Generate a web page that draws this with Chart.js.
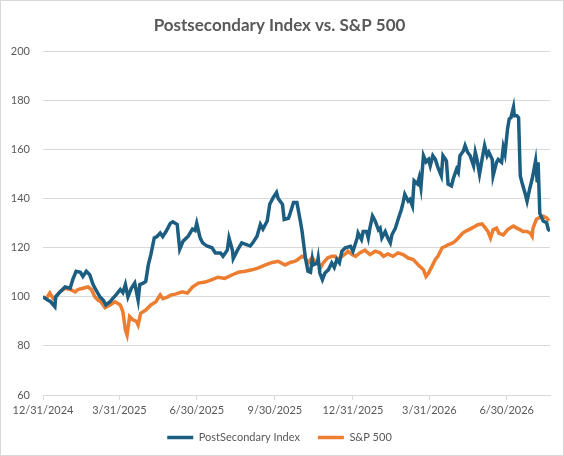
<!DOCTYPE html>
<html>
<head>
<meta charset="utf-8">
<script src="https://cdn.jsdelivr.net/npm/chart.js@4.4.1/dist/chart.umd.min.js"></script>
<style>
  html, body { margin: 0; padding: 0; background: #fff; }
  #wrap { width: 564px; height: 456px; }
</style>
</head>
<body>
<div id="wrap"><canvas id="chart" width="564" height="456"></canvas></div>
<script>
// x values are days after 12/31/2024
const tickDays = [0, 90, 181, 273, 365, 455, 546];
const tickLabels = ["12/31/2024", "3/31/2025", "6/30/2025", "9/30/2025", "12/31/2025", "3/31/2026", "6/30/2026"];

const psDays = [0, 6, 9, 14, 15, 20, 26, 32, 35, 39, 44, 47, 51, 55, 59, 62, 67, 71, 74, 79, 82, 86, 91, 94, 97, 100, 104, 108, 112, 114, 118, 121, 124, 127, 131, 134, 138, 141, 145, 150, 153, 158, 161, 165, 171, 176, 179, 181, 185, 188, 193, 199, 203, 209, 212, 217, 219, 223, 224, 229, 234, 238, 244, 247, 252, 256, 259, 264, 267, 271, 275, 277, 282, 284, 289, 291, 295, 299, 303, 305, 309, 312, 315, 317, 318, 323, 324, 326, 329, 332, 336, 340, 343, 346, 349, 352, 356, 362, 365, 370, 371, 375, 377, 381, 383, 385, 388, 391, 395, 397, 399, 403, 406, 409, 411, 415, 418, 422, 424, 426, 430, 432, 435, 437, 441, 443, 445, 448, 451, 454, 456, 459, 462, 465, 469, 471, 475, 477, 481, 483, 487, 489, 491, 495, 497, 500, 503, 507, 509, 511, 514, 517, 520, 523, 525, 529, 530, 534, 536, 540, 542, 544, 547, 549, 551, 554, 555, 558, 560, 562, 564, 568, 570, 573, 576, 580, 582, 583, 585, 589, 593, 595, 597];
const psValues = [100, 98.6, 98, 96, 100, 102, 104, 103.5, 107, 110.4, 110, 108.3, 110.4, 109, 105, 103, 100, 98.6, 96.7, 98, 99.3, 100.8, 103, 101.7, 105, 100, 103.5, 105.6, 98.6, 105, 105.6, 106.3, 113, 117.2, 124, 124.5, 126, 124.5, 126.7, 130, 130.6, 129.5, 119.4, 122.7, 124.7, 127.6, 127, 130, 124, 122, 120.7, 120, 117.9, 117.9, 116.5, 119, 124, 119, 115.6, 119, 122, 121.5, 120.7, 122, 124.7, 129.5, 127.6, 130.9, 137.7, 140.4, 142.5, 140, 137.7, 131.5, 132, 134, 138.4, 138.4, 130.9, 126.8, 115.8, 110.4, 110, 115.2, 113, 113.8, 115.8, 109.7, 107, 109.7, 111, 113.8, 112, 115.2, 113.8, 118.6, 120, 120.6, 118.6, 124, 126, 123.4, 126.6, 126.6, 124, 128.1, 132.9, 131, 127.3, 128, 124, 126.6, 124, 122, 125.4, 128, 131.4, 135.6, 138.4, 141.8, 139, 139.7, 137, 147.3, 146, 148.6, 144.5, 157.5, 155, 156, 153.4, 157.5, 156, 152.7, 149.3, 157.5, 155.4, 145.9, 145.2, 148, 152, 150.7, 157.5, 159.4, 161.6, 158.9, 157.5, 153.4, 158.9, 156, 150, 156, 161.6, 157.5, 158.9, 156, 149.3, 154.8, 156, 154.8, 161, 158.3, 168.4, 172.5, 173, 177.3, 173.8, 173.8, 173, 149.3, 146.6, 141.8, 139, 143.9, 148, 155.4, 146.6, 154.8, 134, 130.9, 130.2, 127.5, 126.8];

const spDays = [0, 4, 8, 12, 15, 20, 26, 32, 38, 41, 47, 53, 57, 61, 65, 68, 73, 79, 85, 91, 94, 97, 99, 102, 106, 110, 112, 115, 121, 127, 133, 138, 141, 147, 151, 155, 164, 170, 176, 183, 191, 199, 206, 214, 223, 230, 238, 246, 253, 262, 270, 277, 285, 291, 297, 300, 305, 309, 312, 317, 320, 324, 327, 330, 335, 340, 344, 347, 352, 356, 359, 364, 368, 373, 379, 385, 391, 397, 401, 406, 412, 418, 424, 430, 436, 442, 448, 451, 454, 458, 462, 465, 470, 474, 477, 482, 485, 489, 494, 497, 501, 505, 509, 512, 517, 521, 524, 527, 530, 534, 537, 542, 547, 550, 554, 558, 562, 565, 570, 574, 576, 577, 581, 584, 589, 593, 596];
const spValues = [100, 99.3, 101.5, 99.3, 100, 102, 103.5, 103, 102, 103, 103.5, 104, 103, 100, 98.6, 98, 95.6, 96.7, 98, 96.7, 94, 86.5, 84.4, 92, 90.6, 90, 88.5, 93.3, 94.6, 96.7, 98, 100.8, 99.3, 100, 100.8, 101, 102, 101.5, 104, 105.6, 106, 107, 108, 107.5, 109, 110, 110.4, 111, 111.7, 113, 114, 114.5, 113, 114, 114.5, 115.2, 116.5, 115.8, 113.8, 116, 114.5, 113.8, 112, 113.8, 115.8, 116.5, 116.5, 115.2, 116.5, 117.5, 118.6, 117.2, 116.5, 117.9, 119, 117.2, 118.6, 117.9, 116.5, 117.5, 116.5, 117.9, 117.2, 115.8, 115.2, 113, 111, 108.3, 109.7, 112.4, 115.2, 116.5, 120, 120.6, 121.2, 121.9, 122.6, 124, 125.9, 126.6, 127.3, 128, 128.8, 129.4, 129.7, 128, 126.6, 124, 127.3, 128, 125.9, 125.2, 127.3, 128, 128.8, 128, 127.3, 126.6, 126.6, 125.9, 124.7, 128, 131.6, 132.2, 132.9, 132.2, 130.9];

const psPoints = psDays.map((d, i) => ({ x: d, y: psValues[i] }));
const spPoints = spDays.map((d, i) => ({ x: d, y: spValues[i] }));

const gray = "#595959";
const gridGray = "#d9d9d9";

// frame around the whole chart
const framePlugin = {
    id: "frame",
    beforeDraw(chart) {
        const ctx = chart.ctx;
        ctx.save();
        ctx.fillStyle = "#fff";
        ctx.fillRect(0, 0, chart.width, chart.height);
        ctx.strokeStyle = gridGray;
        ctx.lineWidth = 1;
        ctx.strokeRect(0.5, 0.5, chart.width - 1, chart.height - 1);
        ctx.restore();
    }
};

new Chart(document.getElementById("chart").getContext("2d"), {
    type: "line",
    data: {
        datasets: [
            {
                label: "PostSecondary Index",
                data: psPoints,
                borderColor: "#1B5E82",
                backgroundColor: "#1B5E82",
                borderWidth: 3.5,
                pointRadius: 0,
                tension: 0
            },
            {
                label: "S&P 500",
                data: spPoints,
                borderColor: "#ED7D31",
                backgroundColor: "#ED7D31",
                borderWidth: 3.5,
                pointRadius: 0,
                tension: 0
            }
        ]
    },
    options: {
        responsive: false,
        animation: false,
        layout: { padding: { top: 15, right: 14, bottom: 3, left: 9 } },
        plugins: {
            title: {
                display: true,
                text: "Postsecondary Index vs. S&P 500",
                color: gray,
                font: { family: "Lato", size: 17, weight: "bold" },
                padding: { top: 0, bottom: 16 }
            },
            legend: {
                position: "bottom",
                labels: {
                    color: gray,
                    font: { family: "Lato", size: 11 },
                    usePointStyle: true,
                    pointStyle: "line",
                    pointStyleWidth: 26,
                    padding: 18
                }
            },
            tooltip: { enabled: false }
        },
        scales: {
            x: {
                type: "linear",
                min: 0,
                max: 597,
                afterBuildTicks: scale => {
                    scale.ticks = tickDays.map(v => ({ value: v }));
                },
                afterFit: scale => { scale.height = 19; },
                ticks: {
                    color: gray,
                    font: { family: "Lato", size: 11 },
                    maxRotation: 0,
                    autoSkip: false,
                    padding: 4,
                    callback: value => tickLabels[tickDays.indexOf(value)]
                },
                grid: {
                    drawOnChartArea: false,
                    drawTicks: true,
                    tickLength: 5,
                    color: gridGray
                },
                border: { display: true, color: gridGray }
            },
            y: {
                min: 60,
                max: 200,
                afterFit: scale => { scale.width = 34; },
                ticks: {
                    stepSize: 20,
                    color: gray,
                    font: { family: "Lato", size: 11 },
                    padding: 13
                },
                grid: { color: gridGray, drawTicks: false },
                border: { display: false }
            }
        }
    },
    plugins: [framePlugin]
});
</script>
</body>
</html>
